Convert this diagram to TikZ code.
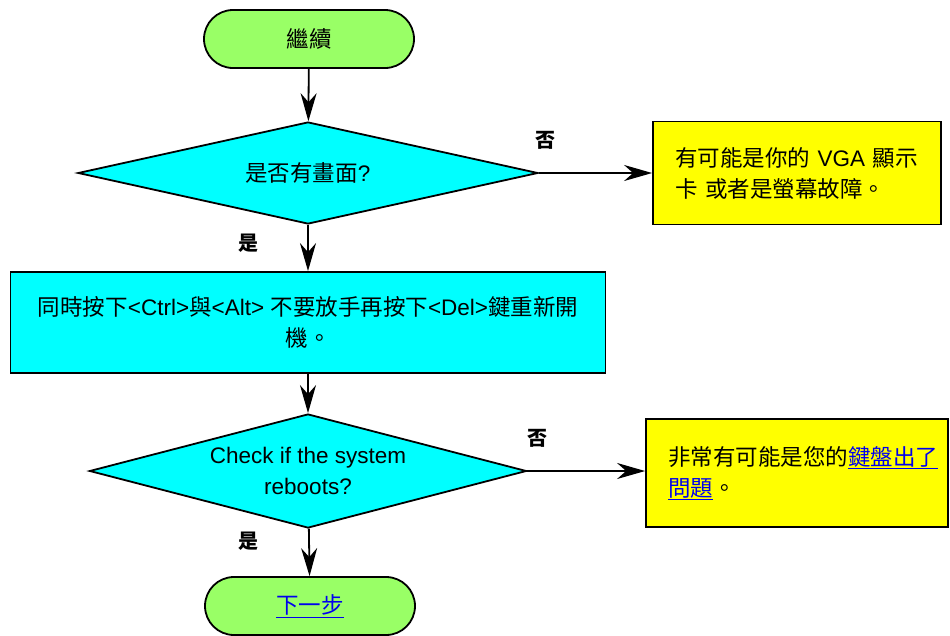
\documentclass[tikz,border=0pt]{standalone}
\usepackage{fontspec}
\setmainfont{Liberation Sans}
\newfontfamily\cjk{Noto Sans CJK TC}
\usetikzlibrary{shapes.geometric, arrows.meta}
\definecolor{termgreen}{HTML}{99FF66}
\definecolor{boxcyan}{HTML}{00FFFF}
\definecolor{boxyellow}{HTML}{FFFF00}
\definecolor{linkblue}{HTML}{0000EE}
\newcommand{\zh}[1]{{\cjk #1}}
\newcommand{\lnk}[1]{\textcolor{linkblue}{\underline{#1}}}
\newcommand{\bodysize}{\fontsize{22.5}{31}\selectfont}
\newcommand{\lblsize}{\fontsize{20}{24}\selectfont}

\begin{document}
\begin{tikzpicture}[x=1pt,y=-1pt,
  term/.style={rectangle,draw,line width=1.8pt,fill=termgreen,rounded corners=29pt,
    minimum width=210pt,minimum height=58pt,font=\bodysize},
  decision/.style={diamond,draw,line width=1.8pt,fill=boxcyan,inner sep=0pt,
    align=center,font=\bodysize},
  process/.style={rectangle,draw,line width=1.8pt,fill=boxcyan,align=center,font=\bodysize},
  note/.style={rectangle,draw,line width=1.8pt,fill=boxyellow,inner xsep=22pt,
    align=left,font=\bodysize},
  lbl/.style={font=\lblsize\cjk\bfseries},
  arr/.style={line width=1.8pt,-{Stealth[length=28pt,width=16pt,inset=9pt]}}]

\useasboundingbox (0,0) rectangle (950,635);

\node[term] (start) at (309,39) {\zh{繼續}};

\node[decision,minimum width=460pt,minimum height=102pt,aspect=4.5] (q1) at (308,173)
{\zh{是否有畫面}?};

\node[note,minimum width=288pt,minimum height=103pt,text width=244pt] (vga) at (797,173)
{\zh{有可能是你的} VGA \zh{顯示}\\\zh{卡 或者是螢幕故障。}};

\node[process,minimum width=595pt,minimum height=101pt] (reset) at (308,322.5)
{\zh{同時按下}<Ctrl>\zh{與}<Alt> \zh{不要放手再按下}<Del>\zh{鍵重新開}\\\zh{機。}};

\node[decision,minimum width=437pt,minimum height=114pt,aspect=3.83] (q2) at (308,471)
{Check if the system\\reboots?};

\node[note,minimum width=302pt,minimum height=108pt,text width=258pt] (kbd) at (797,473)
{\zh{非常有可能是您的}\lnk{\zh{鍵盤出了}}\\\lnk{\zh{問題}}\zh{。}};

\node[term] (next) at (310,606) {\lnk{\zh{下一步}}};

\draw[arr] (start)--(q1);
\draw[arr] (q1.east)--(q1.east -| vga.west);
\draw[arr] (q1)--(reset);
\draw[arr] (reset)--(q2);
\draw[arr] (q2.east)--(q2.east -| kbd.west);
\draw[arr] (q2)--(next);

\node[lbl] (no1) at (545,140) {否};
\node[lbl] (yes1) at (248,243) {是};
\node[lbl] (no2) at (537,438) {否};
\node[lbl] (yes2) at (248,541) {是};

\end{tikzpicture}
\end{document}
